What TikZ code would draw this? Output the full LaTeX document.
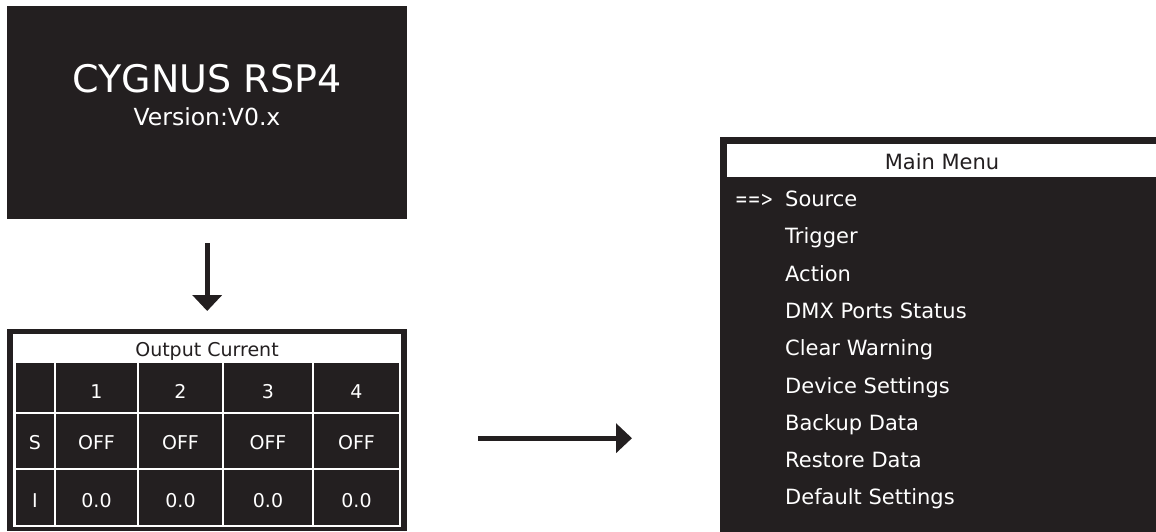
\documentclass[tikz,border=0pt]{standalone}
\usepackage{fontspec}
\setmainfont{DejaVu Sans}
\usetikzlibrary{arrows.meta}
\definecolor{ink}{HTML}{231F20}
\begin{document}
\begin{tikzpicture}[x=1pt,y=-1pt,
  panel/.style={fill=ink, inner sep=0pt, anchor=north west},
  lbl/.style={inner sep=0pt, anchor=base, text=white},
  item/.style={inner sep=0pt, anchor=base west, text=white, font=\fontsize{21}{25}\selectfont},
  cell/.style={lbl, font=\fontsize{19}{23}\selectfont},
  flow/.style={draw=ink, line width=5pt, -{Triangle[length=16pt,width=29pt]}}]
\useasboundingbox (0,0) rectangle (1156,532);
% splash screen
\node[panel, minimum width=400pt, minimum height=213pt] (splash) at (7,6) {};
\node[lbl, font=\fontsize{38}{44}\selectfont] (title) at (207,93) {CYGNUS RSP4};
\node[lbl, font=\fontsize{23.5}{28}\selectfont] (version) at (207,125.5) {Version:V0.x};
% output current table
\node[panel, minimum width=400pt, minimum height=202pt] (table) at (7,329) {};
\fill[white] (13,334) rectangle (401,527);
\foreach \xa/\xb in {16/54,56/137,139/222,224/312,314/399}
  \foreach \ya/\yb in {363/412,414/468,470/525}
    \fill[ink] (\xa,\ya) rectangle (\xb,\yb);
\node[cell, text=ink] (tabtitle) at (207,356) {Output Current};
\foreach \x/\t [count=\i] in {96.5/1,180.5/2,268/3,356.5/4}{
  \node[cell] (head\i) at (\x,398.5) {\t};
  \node[cell] (state\i) at (\x,449.5) {OFF};
  \node[cell] (curr\i) at (\x,507.5) {0.0};
}
\node[cell] (rowS) at (35,449.5) {S};
\node[cell] (rowI) at (35,507.5) {I};
% main menu
\node[panel, minimum width=440pt, minimum height=400pt] (menu) at (720,137) {};
\fill[white] (727,144) rectangle (1160,177);
\node[lbl, text=ink, font=\fontsize{21}{25}\selectfont] (mtitle) at (942,169) {Main Menu};
\node[item] (ptr) at (735,206.5) {\scalebox{0.72}[1]{==>}};
\foreach \t [count=\i] in {Source,Trigger,Action,DMX Ports Status,Clear Warning,Device Settings,Backup Data,Restore Data,Default Settings}
  \node[item] (item\i) at (785,{206.5+37.3*(\i-1)}) {\t};
% arrows
\draw[flow, shorten <=24pt, shorten >=18pt] (splash.south) -- (table.north);
\draw[flow, shorten <=71pt, shorten >=88pt] ([yshift=-8pt]table.east) -- ([yshift=-8pt]table.east -| menu.west);
\end{tikzpicture}
\end{document}
